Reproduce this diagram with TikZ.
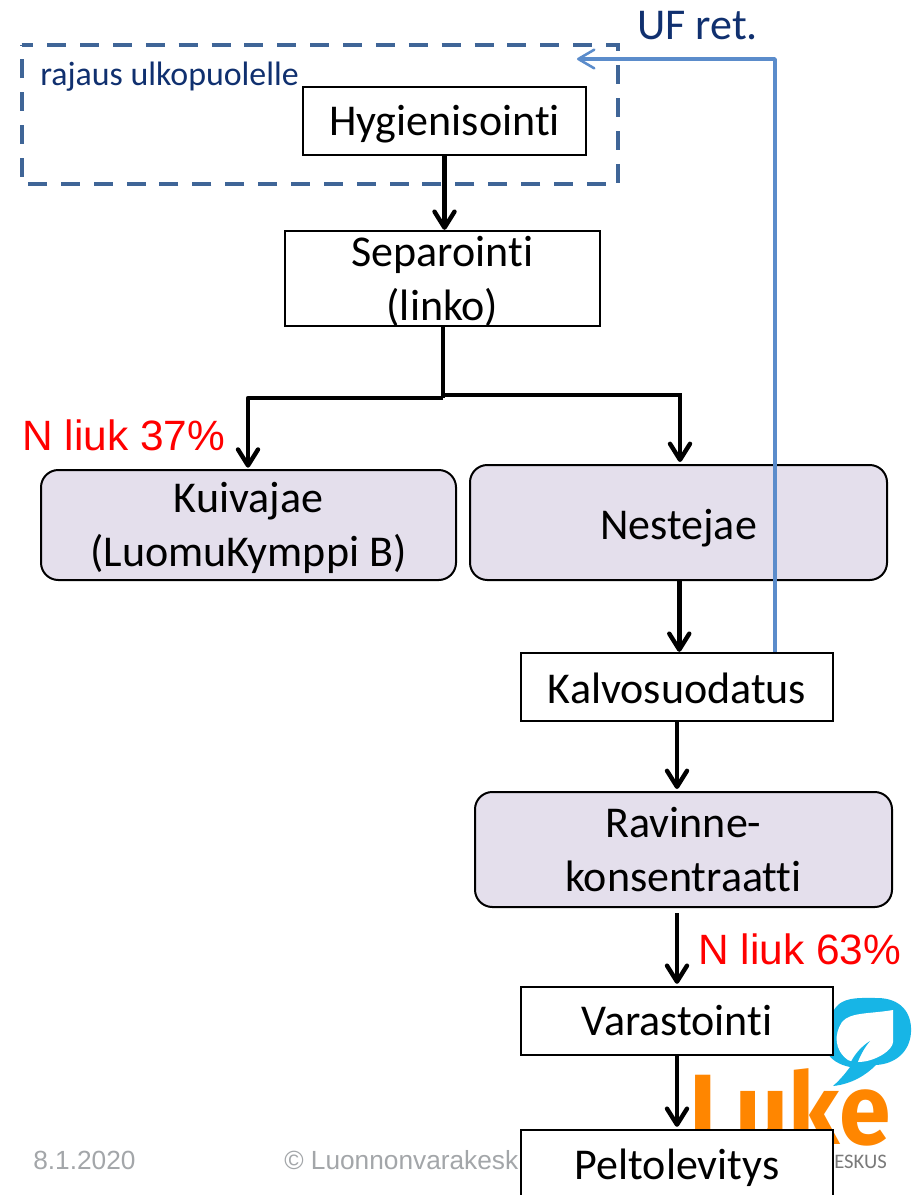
\documentclass[tikz,border=0pt]{standalone}
\usepackage{fontspec}
\setmainfont{Carlito}[RawFeature=-liga]
\newfontfamily\arialf{Liberation Sans}
\newfontfamily\lukef{Fira Sans}
\usetikzlibrary{arrows.meta}
\definecolor{navy}{HTML}{10306F}
\definecolor{dashblue}{HTML}{3F6597}
\definecolor{ufblue}{HTML}{5B8CCB}
\definecolor{lilac}{HTML}{E4DFEC}
\definecolor{footgray}{HTML}{A3A6A9}
\definecolor{lukeorange}{HTML}{FF8600}
\definecolor{lukeblue}{HTML}{17B5E6}
\newcommand{\st}{\rule[-8pt]{0pt}{38pt}}
\newcommand{\stc}{\rule[-8pt]{0pt}{41pt}}
\newcommand{\stb}{\rule[-4.25pt]{0pt}{30.5pt}}
\tikzset{
  x=0.75pt,y=-0.75pt,
  plainbox/.style={draw=black,line width=1.7pt,fill=white,align=center,inner sep=0pt,
     font=\fontsize{33}{40.5}\selectfont,text=black},
  softbox/.style={plainbox,fill=lilac,rounded corners=13pt,line width=1.5pt},
  bsize/.style 2 args={minimum width=#1*0.75pt,minimum height=#2*0.75pt},
  flow/.style={draw=black,line width=3.6pt,line join=round,-{Straight Barb[round,length=12pt,width=15pt,line width=3.3pt]}},
  trunk/.style={draw=black,line width=3.6pt},
  redlab/.style={text=red,font=\arialf\fontsize{31.8}{38}\selectfont,inner sep=0pt},
  footlab/.style={text=footgray,font=\arialf\fontsize{19.7}{24}\selectfont,inner sep=0pt,anchor=west},
}
\begin{document}
\begin{tikzpicture}
\useasboundingbox (0,0) rectangle (920,1195);
\clip (0,0) rectangle (920,1195);
\fill[white] (0,0) rectangle (920,1195);
% logo
\fill[lukeblue] (833,1012) .. controls (840,996) and (860,998) .. (877,998)
  .. controls (900,998) and (912,1012) .. (911,1032)
  .. controls (910,1052) and (895,1064) .. (876,1065)
  .. controls (866,1075) and (852,1084) .. (833,1086)
  .. controls (842,1078) and (847,1071) .. (850,1067)
  .. controls (840,1065) and (830,1060) .. (826,1050) -- cycle;
\fill[white] (893,1010) .. controls (870,1014) and (850,1012) .. (842,1022)
  .. controls (834,1034) and (834,1050) .. (848,1060)
  .. controls (852,1062) and (856,1062) .. (858,1062)
  .. controls (875,1062) and (893,1050) .. (893,1042) -- cycle;
\fill[lukeblue] (870,1041) .. controls (862,1046) and (854,1054) .. (849,1066)
  -- (857,1064) .. controls (860,1056) and (864,1048) .. (870,1041) -- cycle;
\node[name=luke,anchor=base west,inner sep=0pt,text=lukeorange,
  font=\lukef\bfseries\fontsize{75}{80}\selectfont] at (689,1144) {\scalebox{0.93}[1]{Luke}};
\node[name=eskus,anchor=west,inner sep=0pt,text=black!52,font=\fontsize{15.5}{20}\selectfont] at (834,1162) {ESKUS};
% footer
\node[footlab,name=date] at (33,1160) {8.1.2020};
\node[footlab,name=copyr] at (284,1160) {© Luonnonvarakesk};
% limit box
\node[name=limit,bsize={596}{139},inner sep=0pt] at (320,114.5) {};
\draw[dashblue,line width=3.3pt,dash pattern=on 14.25pt off 10.4pt,dash phase=5.5pt]
  (limit.north west) -- (limit.north east) -- (limit.south east) -- (limit.south west) -- cycle;
\node[name=limlab,anchor=west,inner sep=0pt,text=navy,font=\fontsize{25.4}{30}\selectfont] at (40,77) {rajaus ulkopuolelle};
% boxes
\node[plainbox,name=hyg,bsize={283}{68}] at (444.5,121) {\st Hygienisointi};
\node[plainbox,name=sep,bsize={315}{95}] at (442.5,278.5) {\stb\smash{Separointi}\\\stb\smash{(linko)}};
\node[softbox,name=kuiv,bsize={415}{110}] at (248.5,525) {\st Kuivajae\\\st(LuomuKymppi B)};
\node[softbox,name=nest,bsize={417}{115}] at (678.5,522.5) {\stc Nestejae};
\node[plainbox,name=kalvo,bsize={312}{68}] at (677,687) {\stc Kalvosuodatus};
\node[softbox,name=rav,bsize={417}{115}] at (683.5,849.5) {\st Ravinne-\\\st konsentraatti};
\node[plainbox,name=var,bsize={312}{68}] at (677,1021) {\st Varastointi};
\node[plainbox,name=pelto,bsize={312}{70}] at (677,1165) {\st Peltolevitys};
% labels
\node[redlab,name=nl,anchor=west] at (22,435) {N liuk 37\%};
\node[redlab,name=nr,anchor=west] at (698,949) {N liuk 63\%};
\node[name=uf,anchor=west,inner sep=0pt,text=navy,font=\fontsize{33}{40}\selectfont] at (637,26) {UF ret.};
% connectors
\coordinate (j) at (443,398);
\coordinate (jd) at (443,395);
\coordinate (jl) at (248,398);
\coordinate (jr) at (680,395);
\coordinate (ufc) at (775,59);
\coordinate (uft) at (577,59);
\draw[flow] (hyg.south) -- (hyg.south |- sep.north);
\draw[trunk] (sep.south -| j) -- (j);
\draw[draw=black,line width=2.3pt] (jd) -- ([xshift=1.2pt]jr);
\draw[flow] (j) -- (jl) -- ([yshift=1pt]jl |- kuiv.north);
\draw[flow] (jr) -- ([yshift=1.5pt]jr |- nest.north);
\draw[flow] ([xshift=1.7pt]nest.south -| kalvo.north) -- ([xshift=1.7pt]kalvo.north);
\draw[flow] (kalvo.south) -- ([yshift=1.5pt]kalvo.south |- rav.north);
\draw[flow] ([yshift=-3.75pt]rav.south -| var.north) -- ([yshift=1.5pt]var.north);
\draw[flow] (var.south) -- ([yshift=1.5pt]pelto.north);
\draw[draw=ufblue,line width=2.6pt,line join=round,-{Straight Barb[round,length=12pt,width=14pt,line width=1.9pt]}]
  (kalvo.north -| ufc) -- (ufc) -- (uft);
\end{tikzpicture}
\end{document}
